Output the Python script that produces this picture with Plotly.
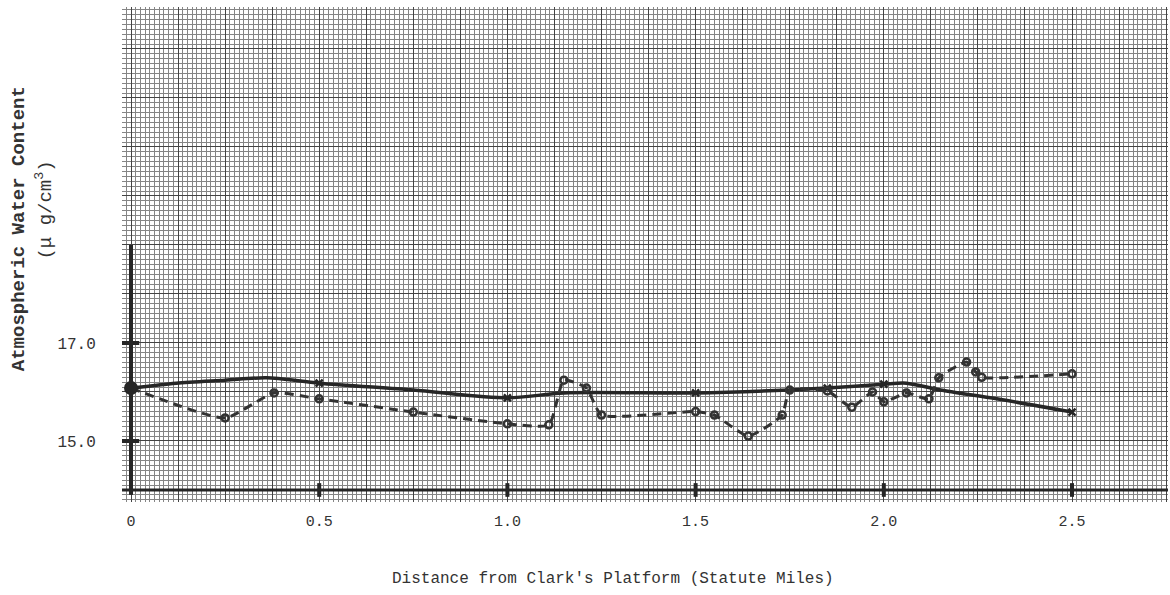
import numpy as np
import plotly.graph_objects as go

# Solid curve: first traverse
solid_miles = [0.0, 0.12, 0.25, 0.36, 0.5, 0.75, 1.0, 1.15, 1.5, 1.75, 1.85, 2.0, 2.06, 2.15, 2.3, 2.5]
solid_water = [16.08, 16.18, 16.24, 16.29, 16.18, 16.04, 15.88, 15.98, 15.98, 16.04, 16.08, 16.16, 16.18, 16.04, 15.86, 15.59]
solid_mark_miles = [0.5, 1.0, 1.5, 1.85, 2.0, 2.5]
solid_mark_water = [16.18, 15.88, 15.98, 16.08, 16.16, 15.59]

# Dashed curve: second traverse
dash_miles = [0.0, 0.25, 0.38, 0.5, 0.75, 1.0, 1.11, 1.15, 1.21, 1.25, 1.5, 1.55, 1.64,
              1.73, 1.75, 1.85, 1.915, 1.97, 2.0, 2.06, 2.12, 2.146, 2.22, 2.244, 2.26, 2.5]
dash_water = [16.08, 15.47, 15.98, 15.86, 15.59, 15.35, 15.33, 16.24, 16.08, 15.53, 15.6, 15.53, 15.1,
              15.53, 16.04, 16.02, 15.69, 16.0, 15.8, 15.98, 15.86, 16.29, 16.61, 16.41, 16.3, 16.37]

# Common starting point at the platform
origin_miles = [0.0]
origin_water = [16.08]

x_tick_vals = [0.0, 0.5, 1.0, 1.5, 2.0, 2.5]
x_tick_text = ["0", "0.5", "1.0", "1.5", "2.0", "2.5"]
y_tick_vals = [15.0, 17.0]
y_tick_text = ["15.0", "17.0"]

X_RANGE = [-0.0239, 2.755]
Y_RANGE = [13.755, 23.857]
INK = "#262626"
TEXT = "#333333"
FONT = "Liberation Mono"

# graph-paper rulings: heavy every 0.125 mi / 1 unit, light every tenth of that
x_major = np.round(np.arange(0.0, 2.76, 0.125), 4)
y_major = np.arange(14.0, 24.0, 1.0)
x_labels = {v: t for v, t in zip(x_tick_vals, x_tick_text)}
y_labels = {v: t for v, t in zip(y_tick_vals, y_tick_text)}

fig = go.Figure()

fig.add_trace(go.Scatter(
    x=solid_miles, y=solid_water, mode="lines",
    line=dict(color=INK, width=3.5, shape="spline", smoothing=0.8),
    hoverinfo="skip", showlegend=False))
fig.add_trace(go.Scatter(
    x=solid_mark_miles, y=solid_mark_water, mode="markers",
    marker=dict(symbol="x-thin", size=7, line=dict(color=INK, width=2.5)),
    hoverinfo="skip", showlegend=False))
fig.add_trace(go.Scatter(
    x=dash_miles, y=dash_water, mode="lines+markers",
    line=dict(color="#333333", width=3, dash="9px,6px", shape="spline", smoothing=0.5),
    marker=dict(symbol="circle-open", size=7, line=dict(color="#2e2e2e", width=2.5)),
    hoverinfo="skip", showlegend=False))
fig.add_trace(go.Scatter(
    x=origin_miles, y=origin_water, mode="markers",
    marker=dict(symbol="circle", size=14, color=INK),
    hoverinfo="skip", showlegend=False))

# heavy drawn axes and tick bars
shapes = [
    dict(type="line", xref="x", yref="y", x0=0, x1=0, y0=13.9, y1=19.0,
         line=dict(color=INK, width=4)),
    dict(type="line", xref="x", yref="y", x0=X_RANGE[0], x1=X_RANGE[1], y0=14.0, y1=14.0,
         line=dict(color=INK, width=3)),
]
for v in x_tick_vals[1:]:
    shapes.append(dict(type="line", xref="x", yref="y", x0=v, x1=v, y0=13.86, y1=14.14,
                       line=dict(color=INK, width=4)))
for v in y_tick_vals:
    shapes.append(dict(type="line", xref="x", yref="y", x0=X_RANGE[0], x1=0.022, y0=v, y1=v,
                       line=dict(color=INK, width=4)))

fig.update_layout(
    width=1170, height=595,
    margin=dict(l=122, r=2, t=7, b=93),
    paper_bgcolor="white", plot_bgcolor="white",
    font=dict(family=FONT, color=TEXT, size=15),
    shapes=shapes,
    annotations=[
        dict(text="<b>Atmospheric Water Content</b>", xref="paper", yref="paper",
             x=-0.099, y=0.552, xanchor="center", yanchor="middle", textangle=-90,
             showarrow=False, font=dict(size=19, family=FONT, color=TEXT)),
        dict(text="(\u03bc g/cm<sup>3</sup>)", xref="paper", yref="paper",
             x=-0.074, y=0.59, xanchor="center", yanchor="middle", textangle=-90,
             showarrow=False, font=dict(size=19, family=FONT, color=TEXT)),
        dict(text="Distance from Clark's Platform (Statute Miles)", xref="paper", yref="paper",
             x=0.469, y=-0.155, xanchor="center", yanchor="middle",
             showarrow=False, font=dict(size=16, family=FONT, color=TEXT)),
    ],
)

fig.update_xaxes(
    range=X_RANGE, tickmode="array", tickvals=list(x_major),
    ticktext=[x_labels.get(float(v), "") for v in x_major],
    showgrid=True, gridcolor="#444444", gridwidth=1.3,
    minor=dict(tickmode="linear", tick0=0, dtick=0.0125, showgrid=True,
               gridcolor="#858585", gridwidth=1),
    ticks="outside", ticklen=5, tickcolor="rgba(0,0,0,0)",
    tickfont=dict(size=15, family=FONT, color=TEXT),
    zeroline=False, showline=False, fixedrange=True)

fig.update_yaxes(
    range=Y_RANGE, tickmode="array", tickvals=list(y_major),
    ticktext=[y_labels.get(float(v), "") for v in y_major],
    showgrid=True, gridcolor="#444444", gridwidth=1.3,
    minor=dict(tickmode="linear", tick0=14, dtick=0.1, showgrid=True,
               gridcolor="#858585", gridwidth=1),
    ticks="outside", ticklen=22, tickcolor="rgba(0,0,0,0)",
    tickfont=dict(size=16, family=FONT, color=TEXT),
    zeroline=False, showline=False, fixedrange=True)

fig.write_html("out.html", config={"displayModeBar": False})
